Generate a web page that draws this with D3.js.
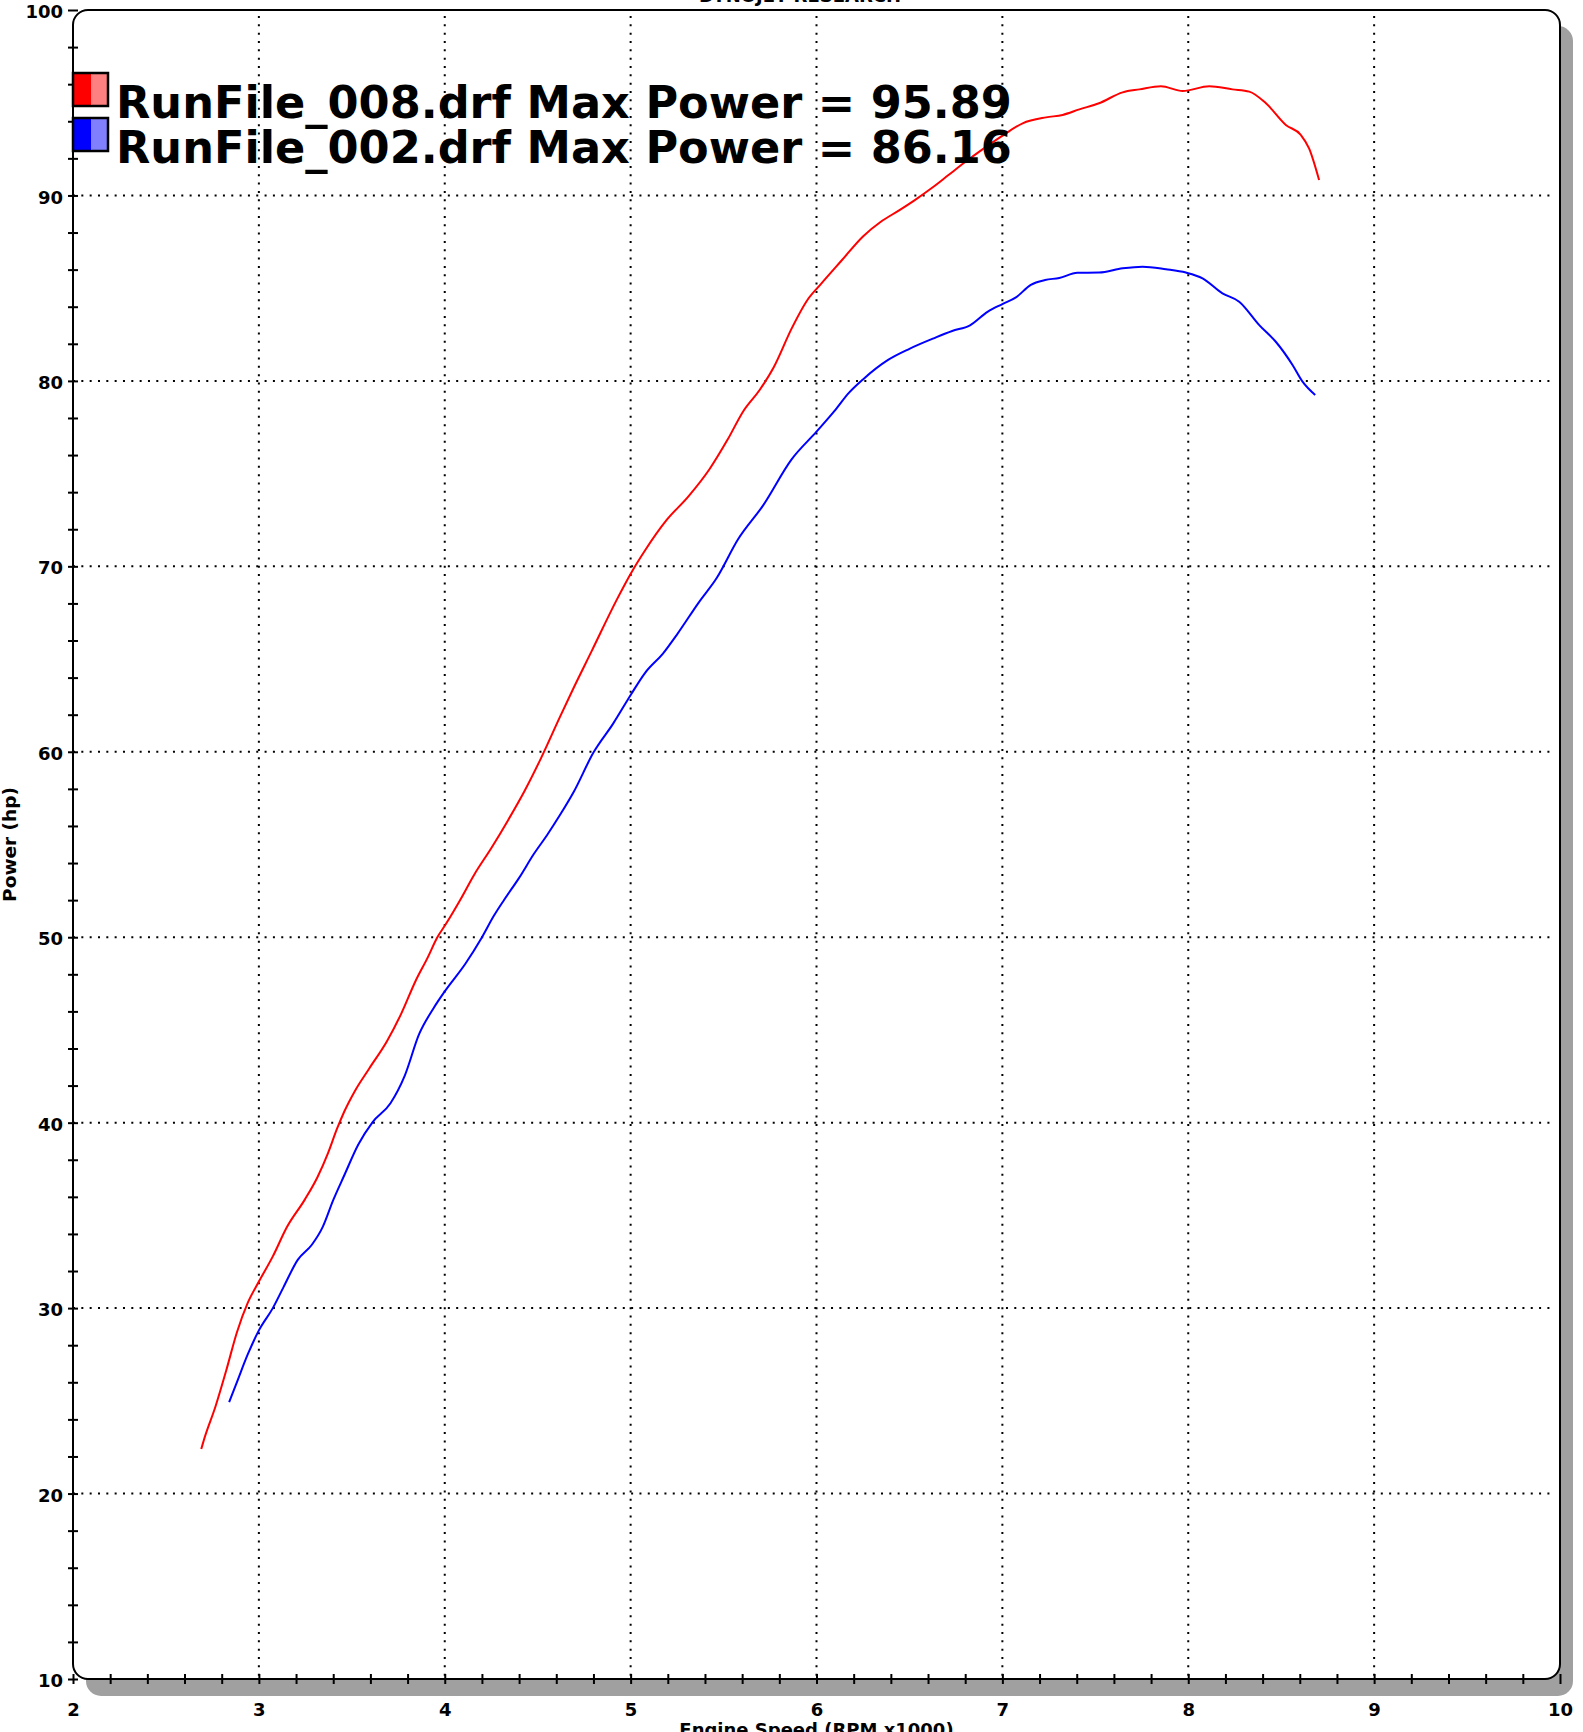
<!DOCTYPE html>
<html>
<head>
<meta charset="utf-8">
<script src="https://cdn.jsdelivr.net/npm/d3@7"></script>
<style>
  body { margin: 0; background: #fff; }
  svg { display: block; }
  text { font-family: "DejaVu Sans", Verdana, sans-serif; font-weight: bold; }
</style>
</head>
<body>
<div id="dyno"></div>
<script>
// rpm x1000, hp
const run008 = [
  [2.69, 22.4], [2.706, 22.95], [2.767, 24.71], [2.825, 26.66], [2.882, 28.7], [2.94, 30.28],
  [3.0, 31.43], [3.075, 32.79], [3.151, 34.37], [3.247, 35.85], [3.315, 37.06], [3.372, 38.36],
  [3.42, 39.66], [3.459, 40.59], [3.516, 41.7], [3.593, 42.91], [3.689, 44.39], [3.766, 45.88],
  [3.843, 47.64], [3.91, 48.94], [3.958, 49.96], [4.006, 50.71], [4.083, 52.01], [4.16, 53.4],
  [4.25, 54.8], [4.34, 56.3], [4.43, 57.9], [4.52, 59.7], [4.618, 61.84], [4.695, 63.48],
  [4.791, 65.44], [4.925, 68.19], [5.002, 69.63], [5.079, 70.88], [5.194, 72.5], [5.31, 73.76],
  [5.425, 75.25], [5.521, 76.82], [5.607, 78.38], [5.694, 79.51], [5.77, 80.74], [5.866, 82.82],
  [5.953, 84.39], [6.02, 85.18], [6.135, 86.49], [6.25, 87.79], [6.346, 88.58], [6.442, 89.18],
  [6.529, 89.75], [6.62, 90.4], [6.71, 91.1], [6.8, 91.8], [6.876, 92.36], [6.993, 93.17],
  [7.109, 93.89], [7.235, 94.21], [7.324, 94.34], [7.414, 94.64], [7.52, 94.97], [7.647, 95.56],
  [7.737, 95.72], [7.853, 95.89], [7.97, 95.63], [8.113, 95.89], [8.238, 95.72], [8.328, 95.6],
  [8.418, 94.97], [8.525, 93.8], [8.606, 93.26], [8.65, 92.54], [8.704, 90.83]
];

const run002 = [
  [2.84, 24.93], [2.882, 26.01], [2.94, 27.5], [3.0, 28.8], [3.075, 30.0], [3.132, 31.12],
  [3.209, 32.6], [3.286, 33.43], [3.343, 34.37], [3.401, 35.85], [3.459, 37.15], [3.535, 38.82],
  [3.612, 40.03], [3.708, 41.05], [3.785, 42.54], [3.862, 44.77], [3.939, 46.16], [4.0, 47.08],
  [4.111, 48.57], [4.198, 49.96], [4.265, 51.17], [4.319, 52.01], [4.4, 53.2], [4.48, 54.5],
  [4.55, 55.5], [4.618, 56.56], [4.695, 57.86], [4.8, 59.96], [4.906, 61.52], [5.002, 63.09],
  [5.079, 64.27], [5.175, 65.31], [5.252, 66.36], [5.367, 68.06], [5.463, 69.37], [5.578, 71.46],
  [5.713, 73.29], [5.866, 75.77], [6.0, 77.26], [6.097, 78.38], [6.174, 79.35], [6.25, 80.08],
  [6.385, 81.13], [6.5, 81.73], [6.634, 82.31], [6.73, 82.69], [6.826, 83.0], [6.922, 83.74],
  [7.0, 84.14], [7.073, 84.5], [7.153, 85.18], [7.23, 85.44], [7.306, 85.55], [7.403, 85.83],
  [7.52, 85.84], [7.647, 86.07], [7.754, 86.16], [7.88, 86.02], [7.987, 85.84], [8.077, 85.53],
  [8.184, 84.72], [8.274, 84.27], [8.382, 83.01], [8.471, 82.11], [8.561, 80.86], [8.615, 79.96],
  [8.683, 79.24]
];

const runNames = ["RunFile_008.drf", "RunFile_002.drf"];
const maxPower = ["95.89", "86.16"];
const runColors = ["#ff0000", "#0000ff"];
const runLight = ["#ff8080", "#8080ff"];

const xTicks = [2, 3, 4, 5, 6, 7, 8, 9, 10];
const yTicks = [10, 20, 30, 40, 50, 60, 70, 80, 90, 100];
const xMinor = d3.range(2, 10.001, 0.2);
const yMinor = d3.range(10, 100.001, 2);

const margin = {top: 10, right: 23, bottom: 53, left: 73},
      W = 1583, H = 1732,
      width = W - margin.left - margin.right,
      height = H - margin.top - margin.bottom;

const svg = d3.select("#dyno").append("svg")
    .attr("width", W)
    .attr("height", H);

const x = d3.scaleLinear().domain([2, 10]).range([0, width]);
const y = d3.scaleLinear().domain([10, 100]).range([height, 0]);

const g = svg.append("g")
    .attr("transform", "translate(" + margin.left + "," + margin.top + ")");

// sombra del marco
g.append("rect")
    .attr("x", 13).attr("y", 16)
    .attr("width", width).attr("height", height + 1)
    .attr("rx", 15).attr("ry", 15)
    .attr("fill", "#a0a0a0");

g.append("rect")
    .attr("width", width).attr("height", height)
    .attr("rx", 15).attr("ry", 15)
    .attr("fill", "#fff");

// rejilla punteada
g.append("g").selectAll("line")
    .data(xTicks.slice(1, -1))
    .enter().append("line")
    .attr("x1", d => x(d)).attr("x2", d => x(d))
    .attr("y1", 6).attr("y2", height)
    .attr("stroke", "#000").attr("stroke-width", 2)
    .attr("stroke-dasharray", "2,6.33");

g.append("g").selectAll("line")
    .data(yTicks.slice(1, -1))
    .enter().append("line")
    .attr("y1", d => y(d)).attr("y2", d => y(d))
    .attr("x1", 0).attr("x2", width - 6)
    .attr("stroke", "#000").attr("stroke-width", 2)
    .attr("stroke-dasharray", "2,6.33");

// curvas
const linea = d3.line()
    .x(d => x(d[0]))
    .y(d => y(d[1]))
    .curve(d3.curveMonotoneX);

[run008, run002].forEach((run, i) => {
    g.append("path")
        .datum(run)
        .attr("fill", "none")
        .attr("stroke", runColors[i])
        .attr("stroke-width", 2)
        .attr("d", linea);
});

// marco
g.append("rect")
    .attr("width", width).attr("height", height)
    .attr("rx", 15).attr("ry", 15)
    .attr("fill", "none")
    .attr("stroke", "#000").attr("stroke-width", 2);

// ticks menores (cruzan el eje)
g.append("g")
    .attr("transform", "translate(5,0)")
    .call(d3.axisLeft(y).tickValues(yMinor).tickSize(10).tickFormat(""))
    .call(s => s.select(".domain").remove())
    .selectAll("line").attr("stroke-width", 2);

g.append("g")
    .attr("transform", "translate(0," + (height - 5) + ")")
    .call(d3.axisBottom(x).tickValues(xMinor).tickSize(10).tickFormat(""))
    .call(s => s.select(".domain").remove())
    .selectAll("line").attr("stroke-width", 2);

// etiquetas de los ejes
const ejeY = g.append("g")
    .call(d3.axisLeft(y).tickValues(yTicks).tickSize(0).tickPadding(10).tickFormat(d3.format("d")));
ejeY.select(".domain").remove();
ejeY.selectAll("text")
    .attr("dy", "0.42em")
    .style("font-size", "18px")
    .style("font-family", "'DejaVu Sans', Verdana, sans-serif")
    .style("font-weight", "bold");

const ejeX = g.append("g")
    .attr("transform", "translate(0," + height + ")")
    .call(d3.axisBottom(x).tickValues(xTicks).tickSize(0).tickPadding(24).tickFormat(d3.format("d")));
ejeX.select(".domain").remove();
ejeX.selectAll("text")
    .style("font-size", "18px")
    .style("font-family", "'DejaVu Sans', Verdana, sans-serif")
    .style("font-weight", "bold");

//Etiqueta eje X
g.append("text")
    .attr("text-anchor", "middle")
    .attr("x", width / 2)
    .attr("y", height + 57)
    .style("font-size", "18px")
    .text("Engine Speed (RPM x1000)");

//Etiqueta eje Y
svg.append("text")
    .attr("text-anchor", "middle")
    .attr("transform", "translate(16," + (margin.top + height / 2) + ") rotate(-90)")
    .style("font-size", "18.5px")
    .text("Power (hp)");

// titulo (cortado arriba)
svg.append("text")
    .attr("text-anchor", "middle")
    .attr("x", 800)
    .attr("y", 2)
    .style("font-size", "18px")
    .text("DYNOJET RESEARCH");

// leyenda
const leyenda = g.append("g").attr("id", "leyenda");
runNames.forEach((nombre, i) => {
    const top = 63 + i * 45;
    leyenda.append("rect")
        .attr("x", 0).attr("y", top).attr("width", 18).attr("height", 33)
        .attr("fill", runColors[i]);
    leyenda.append("rect")
        .attr("x", 18).attr("y", top).attr("width", 17).attr("height", 33)
        .attr("fill", runLight[i]);
    leyenda.append("rect")
        .attr("x", 0).attr("y", top).attr("width", 35).attr("height", 33)
        .attr("fill", "none").attr("stroke", "#000").attr("stroke-width", 2.5);
    const t = leyenda.append("text")
        .attr("x", 43)
        .attr("y", top + 45)
        .style("font-size", "44px")
        .text(nombre + " Max Power = " + maxPower[i]);
    const w = t.node().getComputedTextLength();
    t.style("font-size", (44 * 896 / w) + "px");
});
</script>
</body>
</html>
